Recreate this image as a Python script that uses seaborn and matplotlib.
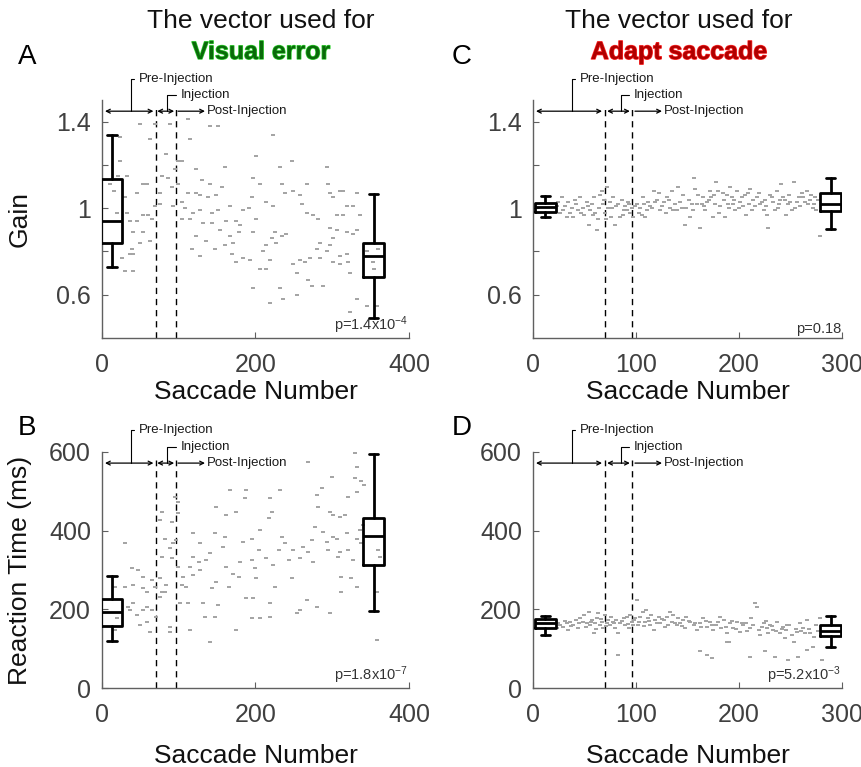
import matplotlib
matplotlib.use("Agg")
import matplotlib.pyplot as plt
import matplotlib.transforms as mtransforms
import matplotlib.patheffects as pe
import seaborn as sns

# ---- values ----
# A: gain, visual-error vector
gain_ve_x = [50, 63, 23, 23, 21, 32, 10, 54, 58, 45, 30, 15, 19, 32, 37, 45, 54, 60, 65, 41,
             54, 63, 50, 39, 37, 26, 41, 30, 41,
             69, 89, 84, 99, 104, 95, 78, 86, 91, 99, 76, 69, 76, 93, 104,
             115, 112, 141, 151, 123, 130, 141, 156, 160, 112, 123, 128, 138, 149, 108, 119,
             128, 143, 151, 167, 104, 115, 132, 143, 154, 162, 175, 180, 184, 195, 191, 201,
             197, 178, 167, 171, 160, 147, 136, 123, 117, 128, 169, 184, 175, 193, 197,
             201, 197, 206, 214, 223, 223, 232, 234, 238, 247, 249, 258, 267, 260, 267, 275,
             282, 297, 306, 225, 234, 240, 221, 227, 214, 210, 219, 206, 214, 232, 236, 254,
             219, 249, 254, 258, 264, 269, 273, 271, 280, 284,
             293, 295, 297, 310, 314, 301, 306, 314, 319, 327, 332, 336, 319, 327, 332, 301,
             297, 293, 284, 301, 310, 319, 310, 321, 323, 288, 332, 345, 358, 323, 355, 345,
             353, 360]
gain_ve_y = [1.39, 1.32, 1.33, 1.22, 1.15, 1.15, 1.11, 1.11, 1.11, 1.07, 1.05, 1.08, 0.98, 0.98,
             0.94, 0.94, 0.97, 0.97, 0.95, 0.89, 0.89, 0.85, 0.84, 0.81, 0.79, 0.77, 0.79, 0.71,
             0.71,
             1.39, 1.39, 1.25, 1.22, 1.22, 1.18, 1.15, 1.14, 1.10, 1.11, 1.07, 1.01, 1.02, 1.01,
             1.03,
             1.32, 1.41, 1.38, 1.38, 1.18, 1.13, 1.11, 1.10, 1.19, 1.07, 1.07, 1.06, 1.05, 1.06,
             1.00, 0.98, 0.99, 0.98, 0.99, 1.01, 0.95, 0.95, 0.93, 0.93, 0.90, 0.94, 0.94, 0.92,
             0.99, 1.05, 1.00, 0.95, 0.89, 0.89, 0.87, 0.84, 0.83, 0.81, 0.85, 0.87, 0.81, 0.78,
             0.79, 0.77, 0.75, 0.76, 0.63,
             1.24, 1.14, 1.11, 1.03, 1.01, 1.34, 1.19, 1.11, 1.07, 1.22, 1.08, 1.06, 1.11, 1.02,
             0.98, 0.97, 0.95, 0.91, 0.90, 0.89, 0.87, 0.88, 0.86, 0.84, 0.83, 0.80, 0.76, 0.72,
             0.72, 0.63, 0.58, 0.60, 0.56, 0.74, 0.70, 0.76, 0.75, 0.67, 0.64, 0.77, 0.81, 0.84,
             1.19, 1.11, 1.07, 1.08, 1.08, 1.05, 0.97, 0.97, 1.01, 1.01, 1.07, 0.97, 0.89, 0.88,
             0.90, 0.86, 0.83, 0.80, 0.77, 0.75, 0.78, 0.79, 0.74, 0.75, 0.70, 0.64, 0.58, 0.55,
             0.55, 0.52, 0.72, 0.80, 0.75, 0.81]

# B: reaction time, visual-error vector
rt_ve_x = [30, 39, 47, 54, 41, 30, 17, 54, 58, 69, 76, 65, 78, 84, 82, 41, 34, 37, 45, 54,
           58, 50, 58, 19, 17, 63, 65, 71, 89, 89, 76, 78, 76, 91, 99, 82, 89, 93, 78, 91,
           97, 99, 104, 110, 112, 102, 115, 95, 99, 119, 128, 119, 126, 115, 106, 119, 128, 136, 141, 147,
           149, 143, 132, 141, 134, 147, 151, 149, 162, 167, 160, 158, 162, 165, 171, 180, 184, 195, 188, 186,
           175, 178, 188, 197, 195, 206, 175, 195, 199, 201, 204, 206, 214, 217, 219, 221, 219, 219, 223, 225,
           232, 230, 234, 238, 243, 247, 254, 258, 249, 258, 262, 267, 269, 273, 275, 277, 280, 282, 280, 286,
           288, 293, 295, 297, 301, 297, 301, 306, 310, 316, 310, 308, 319, 321, 312, 312, 321, 327, 325, 332,
           332, 329, 332, 338, 342, 336, 340, 338, 332, 358, 360, 358, 362, 268, 330, 300]
rt_ve_y = [368, 304, 300, 283, 262, 258, 258, 253, 245, 258, 279, 274, 245, 262, 245, 215, 207, 198, 185, 198,
           207, 160, 168, 177, 147, 143, 198, 181, 156, 143, 232, 448, 427, 423, 444, 380, 355, 368, 334, 330,
           376, 308, 262, 258, 215, 215, 147, 486, 474, 393, 368, 334, 321, 308, 283, 287, 300, 325, 342, 393,
           270, 253, 215, 118, 181, 181, 211, 461, 440, 503, 385, 359, 308, 258, 291, 321, 372, 380, 503, 482,
           448, 283, 228, 228, 177, 177, 147, 325, 304, 279, 351, 402, 330, 431, 482, 448, 215, 181, 313, 258,
           503, 351, 385, 368, 325, 279, 190, 198, 351, 330, 359, 224, 347, 376, 321, 410, 491, 461, 207, 508,
           397, 372, 351, 448, 440, 190, 385, 380, 347, 440, 435, 334, 393, 351, 283, 245, 486, 325, 279, 380,
           499, 533, 563, 525, 516, 402, 414, 368, 258, 122, 351, 245, 334, 575, 598, 537]

# C: gain, adapt-saccade vector
gain_as_x = [23, 26, 28, 29, 33, 34, 38, 39, 42, 44, 46, 49, 50, 52, 54, 55, 57, 59, 60, 62,
             63, 65, 67, 68, 70, 72, 73, 75, 76, 78, 80, 81, 84, 86, 88, 89, 91, 93, 94, 97,
             101, 104, 106, 107, 109, 112, 114, 117, 118, 122, 123, 127, 130, 133, 135, 136, 140, 141, 143, 146,
             148, 149, 152, 154, 156, 157, 159, 162, 164, 165, 167, 169, 172, 173, 175, 177, 178, 180, 182, 185,
             186, 188, 190, 191, 193, 194, 196, 198, 201, 203, 204, 207, 209, 211, 214, 216, 217, 220, 224, 225,
             227, 228, 230, 233, 237, 238, 240, 241, 243, 246, 248, 249, 251, 253, 256, 259, 261, 262, 266, 267,
             270, 272, 274, 275, 279,
             24, 31, 36, 41, 47, 53, 58, 64, 69, 71, 77, 83, 87, 92, 96, 99, 103, 108, 111, 116,
             120, 125, 129, 132, 138, 145, 151, 155, 160, 166, 171, 176, 181, 184, 189, 195, 200, 206, 210, 213,
             219, 222, 226, 232, 235, 239, 245, 250, 254, 258, 264, 269, 273, 277]
gain_as_y = [1.01, 0.98, 1.05, 0.99, 0.96, 1.03, 1.00, 0.96, 1.02, 0.99, 1.05, 1.00, 0.97, 1.03, 0.92, 0.99, 1.02, 1.05, 0.98, 0.90,
             0.95, 1.06, 1.08, 1.02, 0.98, 1.10, 1.00, 1.03, 0.96, 1.05, 0.92, 1.01, 0.96, 1.04, 0.99, 1.01, 0.99, 1.02, 0.98, 0.96,
             1.02, 1.00, 0.97, 1.05, 0.96, 1.03, 1.01, 1.08, 1.03, 1.07, 0.99, 1.03, 1.05, 1.00, 1.08, 0.99, 0.99, 1.10, 1.03, 1.06,
             0.92, 1.00, 0.96, 1.02, 1.14, 1.09, 1.02, 0.91, 1.02, 1.05, 0.99, 1.03, 1.08, 1.05, 0.96, 1.02, 1.12, 1.08, 1.01, 1.04,
             0.96, 1.06, 1.00, 1.10, 1.05, 1.02, 0.99, 1.08, 1.03, 1.05, 1.01, 0.97, 1.07, 1.09, 1.04, 1.01, 1.05, 1.02, 0.99, 1.04,
             0.97, 0.91, 1.06, 1.03, 1.08, 1.00, 1.04, 1.11, 1.05, 0.97, 1.02, 1.06, 0.99, 1.12, 1.03, 1.01, 1.07, 1.05, 1.08, 1.02,
             1.06, 1.00, 1.05, 0.99, 0.87,
             1.03, 1.01, 0.98, 1.04, 0.98, 1.01, 0.97, 1.00, 1.04, 0.95, 1.00, 1.02, 0.97, 1.03, 1.00, 1.01, 0.98, 1.02, 0.99, 1.00,
             1.04, 1.01, 0.98, 1.04, 1.02, 1.00, 1.04, 0.99, 1.06, 1.01, 1.04, 1.06, 0.98, 1.07, 1.02, 1.04, 1.00, 1.06, 1.02, 0.99,
             1.07, 1.03, 1.01, 1.05, 0.99, 1.02, 1.04, 1.03, 1.00, 1.05, 1.03, 1.04, 1.02, 1.04]

# D: reaction time, adapt-saccade vector
rt_as_x = [23, 26, 29, 33, 34, 36, 39, 42, 44, 46, 49, 50, 52, 54, 55, 57, 59, 60, 62, 63,
           65, 67, 68, 70, 72, 73, 75, 76, 78, 80, 81, 83, 84, 88, 89, 91, 93, 94, 96, 97,
           99, 101, 102, 104, 107, 109, 110, 112, 114, 115, 117, 118, 122, 123, 127, 128, 130, 133, 135, 136,
           140, 141, 143, 146, 148, 149, 152, 156, 159, 162, 165, 169, 172, 175, 178, 182, 183, 185, 188, 190,
           191, 194, 198, 201, 204, 207, 211, 212, 216, 217, 219, 220, 224, 227, 228, 230, 233, 237, 240, 243,
           245, 246, 249, 253, 256, 259, 262, 266, 269, 272, 275, 279,
           83, 162, 169, 174, 188, 211, 225, 235, 248, 257, 266, 281,
           24, 31, 37, 45, 51, 56, 61, 66, 71, 79, 86, 92, 98, 103, 108, 113, 120, 125, 131, 138,
           145, 151, 157, 163, 168, 174, 180, 187, 193, 197, 203, 208, 214, 222, 226, 232, 236, 242, 247, 251,
           255, 260, 264, 268, 273, 277]
rt_as_y = [152, 160, 156, 164, 148, 169, 160, 173, 152, 177, 169, 186, 164, 194, 160, 173, 139, 164, 177, 190,
           160, 169, 152, 186, 164, 173, 160, 181, 169, 152, 173, 139, 164, 177, 160, 181, 152, 186, 169, 160,
           177, 224, 160, 181, 194, 169, 198, 177, 160, 186, 148, 173, 181, 164, 173, 156, 181, 194, 169, 186,
           160, 177, 164, 173, 152, 181, 169, 160, 148, 164, 177, 156, 169, 148, 160, 181, 152, 173, 139, 118,
           164, 152, 169, 143, 160, 164, 152, 177, 215, 207, 148, 135, 164, 152, 139, 160, 148, 169, 139, 156,
           126, 148, 160, 118, 143, 164, 152, 173, 139, 105, 160, 177,
           84, 93, 84, 77, 118, 80, 93, 80, 72, 80, 97, 72,
           165, 170, 158, 165, 155, 168, 150, 175, 158, 165, 170, 163, 172, 168, 158, 170, 165, 175, 160, 166,
           158, 170, 165, 155, 170, 160, 168, 155, 170, 150, 165, 145, 160, 155, 170, 158, 145, 150, 160, 135,
           150, 145, 140, 150, 130, 145]

# box summaries (whislo, q1, median, q3, whishi) and their x positions
gain_ve_boxes = [[0.73, 0.837, 0.94, 1.135, 1.34], [0.493, 0.684, 0.777, 0.84, 1.065]]
rt_ve_boxes = [[120, 158, 192, 226, 285], [197, 313, 386, 431, 594]]
gain_as_boxes = [[0.958, 0.984, 1.005, 1.025, 1.054], [0.904, 0.988, 1.019, 1.07, 1.139]]
rt_as_boxes = [[135, 153, 166, 176, 183], [103, 133, 146, 160, 183]]
box_pos_ve = [13, 354]
box_pos_as = [12, 289]

injection_at = [70, 96]
p_values = [r"p=1.4x10$^{-4}$", r"p=1.8x10$^{-7}$", "p=0.18", r"p=5.2x10$^{-3}$"]

sns.set_style("ticks")
plt.rcParams["font.family"] = ["Liberation Sans", "DejaVu Sans"]
plt.rcParams["mathtext.fontset"] = "custom"
plt.rcParams["mathtext.rm"] = "Liberation Sans"
plt.rcParams["mathtext.default"] = "regular"

fig = plt.figure(figsize=(8.62, 7.67), dpi=100)
W, H = 862, 767


def add_ax(l, t, r, b):
    return fig.add_axes([l / W, 1 - b / H, (r - l) / W, (b - t) / H])


axA = add_ax(102, 100, 409, 338)
axB = add_ax(102, 452, 409, 688)
axC = add_ax(533, 100, 842, 338)
axD = add_ax(533, 452, 842, 688)

GRAY = "#a3a3a3"
TXT = "#404040"
ANN = "#1a1a1a"


def panel(ax, xs, ys, boxes, pos, xmax, ylim, yticks, ylabels, yminor, pval):
    sns.scatterplot(x=xs, y=ys, ax=ax, marker="_", s=6, color=GRAY, linewidth=1.4, zorder=2)
    ppu = (ax.get_position().width * W) / xmax
    stats = [dict(whislo=b[0], q1=b[1], med=b[2], q3=b[3], whishi=b[4], fliers=[]) for b in boxes]
    bw = 21 / ppu
    lp = dict(color="k", lw=2.0)
    ax.bxp(stats, positions=pos, widths=bw, capwidths=bw * 0.45, showfliers=False,
           boxprops=lp, whiskerprops=lp, capprops=lp, medianprops=lp, manage_ticks=False, zorder=3)

    ax.set_xlim(0, xmax)
    ax.set_ylim(*ylim)
    ax.set_xticks(range(0, xmax + 1, 200 if xmax == 400 else 100))
    ax.set_yticks(yticks)
    ax.set_yticklabels(ylabels)
    ax.set_yticks(yminor, minor=True)
    ax.tick_params(axis="both", which="both", direction="in", length=4, width=0.8,
                   color="#606060", labelcolor=TXT, labelsize=18)
    ax.tick_params(axis="x", pad=11)
    ax.tick_params(axis="y", pad=8)
    sns.despine(ax=ax)
    for s in ("left", "bottom"):
        ax.spines[s].set_color("#606060")
        ax.spines[s].set_linewidth(1.0)

    # injection epochs
    blend = mtransforms.blended_transform_factory(ax.transData, ax.transAxes)
    for xv in injection_at:
        ax.axvline(xv, ymin=0, ymax=0.965, color="k", lw=1.0, dashes=(4.5, 3.5), zorder=1)
    ya = 0.953
    arr = dict(lw=0.9, color="k", shrinkA=0, shrinkB=0, mutation_scale=7)
    ax.annotate("", xy=(3 / ppu, ya), xytext=(67, ya), xycoords=blend, textcoords=blend,
                arrowprops=dict(arrowstyle="<->", **arr))
    ax.annotate("", xy=(72, ya), xytext=(94, ya), xycoords=blend, textcoords=blend,
                arrowprops=dict(arrowstyle="<->", **arr))
    post_end = 99 + 27 / ppu
    ax.annotate("", xy=(post_end, ya), xytext=(99, ya), xycoords=blend, textcoords=blend,
                arrowprops=dict(arrowstyle="->", **arr))
    ax.text(post_end + 2 / ppu, ya, "Post-Injection", transform=blend, va="center", ha="left",
            fontsize=9.5, color=ANN)
    lead = dict(arrowstyle="-", lw=0.8, color="k", connectionstyle="angle,angleA=0,angleB=90,rad=0",
                relpos=(0, 0.5), shrinkA=1, shrinkB=0)
    ax.annotate("Pre-Injection", xy=(38, ya), xycoords=blend, xytext=(5.5, 23.5),
                textcoords="offset points", ha="left", va="center", fontsize=9.5,
                color=ANN, arrowprops=lead, annotation_clip=False)
    ax.annotate("Injection", xy=(85, ya), xycoords=blend, xytext=(9.6, 11.3),
                textcoords="offset points", ha="left", va="center", fontsize=9.5,
                color=ANN, arrowprops=lead, annotation_clip=False)

    ax.text(0.997, 0.008, pval, transform=ax.transAxes, ha="right", va="bottom",
            fontsize=10.5, color="#333333")


panel(axA, gain_ve_x, gain_ve_y, gain_ve_boxes, box_pos_ve, 400, (0.4, 1.5),
      [0.6, 1.0, 1.4], ["0.6", "1", "1.4"], [0.8, 1.2], p_values[0])
panel(axB, rt_ve_x, rt_ve_y, rt_ve_boxes, box_pos_ve, 400, (0, 600),
      [0, 200, 400, 600], ["0", "200", "400", "600"], [], p_values[1])
panel(axC, gain_as_x, gain_as_y, gain_as_boxes, box_pos_as, 300, (0.4, 1.5),
      [0.6, 1.0, 1.4], ["0.6", "1", "1.4"], [0.8, 1.2], p_values[2])
panel(axD, rt_as_x, rt_as_y, rt_as_boxes, box_pos_as, 300, (0, 600),
      [0, 200, 400, 600], ["0", "200", "400", "600"], [], p_values[3])

axA.set_ylabel("Gain", fontsize=19, color="#111111")
axB.set_ylabel("Reaction Time (ms)", fontsize=19, color="#111111")
axA.yaxis.set_label_coords(-0.228, 0.5)
axB.yaxis.set_label_coords(-0.228, 0.5)
for ax, top in ((axA, -0.175), (axC, -0.175), (axB, -0.238), (axD, -0.238)):
    ax.set_xlabel("Saccade Number", fontsize=19, color="#111111")
    ax.xaxis.set_label_coords(0.5, top)

# titles and panel letters
fig.text(261 / W, 1 - 21 / H, "The vector used for", ha="center", va="center", fontsize=19,
         color="#111111")
fig.text(261 / W, 1 - 52 / H, "Visual error", ha="center", va="center", fontsize=18,
         fontweight="bold", color="#0a6a0a",
         path_effects=[pe.withStroke(linewidth=1.0, foreground="#30d030")])
fig.text(679 / W, 1 - 21 / H, "The vector used for", ha="center", va="center", fontsize=19,
         color="#111111")
fig.text(679 / W, 1 - 52 / H, "Adapt saccade", ha="center", va="center", fontsize=18,
         fontweight="bold", color="#b00000",
         path_effects=[pe.withStroke(linewidth=1.0, foreground="#ff2a2a")])
for letter, x, y in (("A", 27, 57), ("B", 27, 428), ("C", 462, 57), ("D", 462, 428)):
    fig.text(x / W, 1 - y / H, letter, ha="center", va="center", fontsize=20, color="black")

fig.savefig("out.png", dpi=100)
